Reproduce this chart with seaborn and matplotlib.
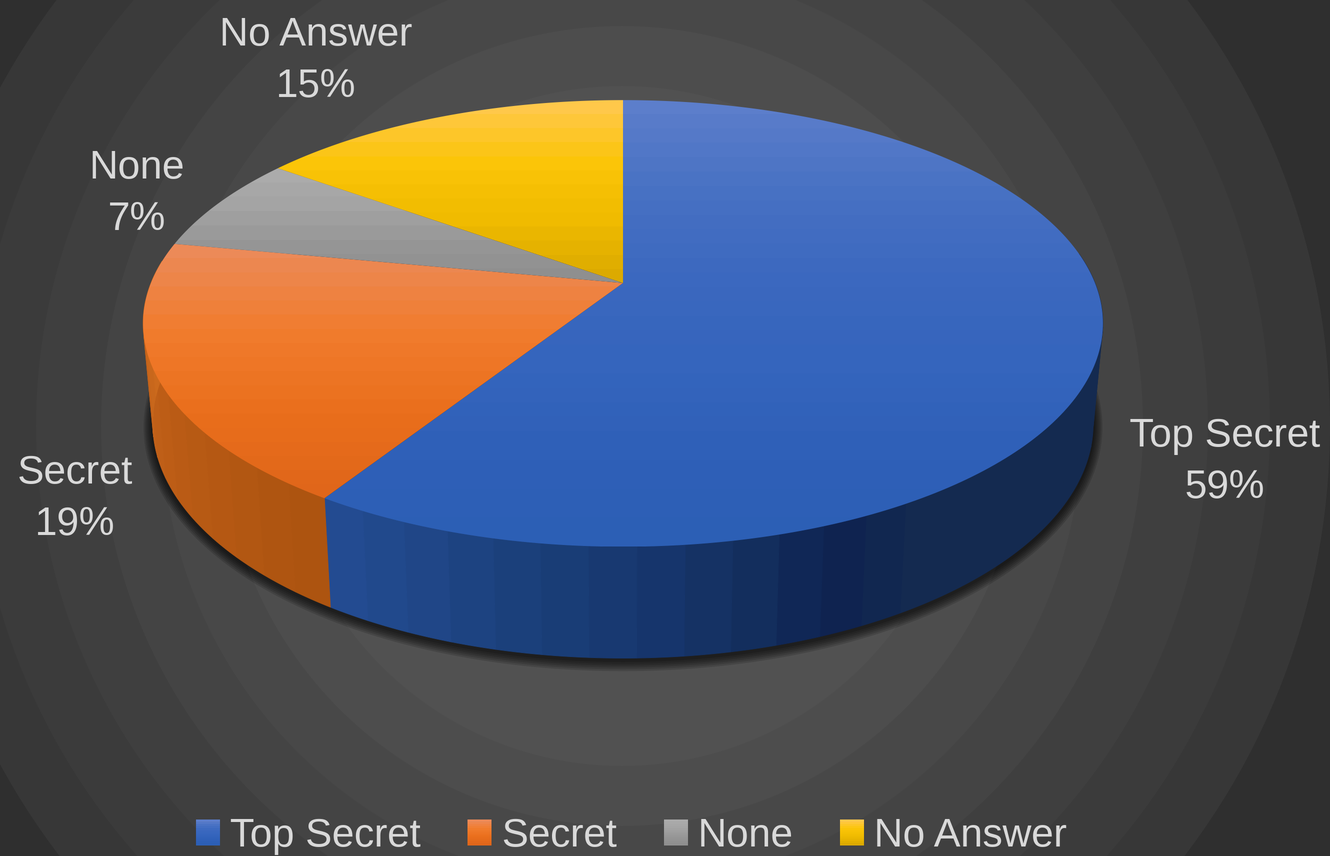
import io

import numpy as np
import seaborn as sns
import matplotlib.pyplot as plt
from matplotlib.legend_handler import HandlerBase
from matplotlib.patches import Circle, Patch, PathPatch, Polygon, Rectangle
from matplotlib.path import Path
from PIL import Image

categories = ["Top Secret", "Secret", "None", "No Answer"]
shares = [59, 19, 7, 15]

# vertical gradient of each top face, light to saturated
top_stops = [
    ["#5c7ecb", "#4771c3", "#3b68bf", "#3565bd", "#2f60b8", "#2c5fb5"],
    ["#ec8a58", "#f17c2e", "#ea6f1c", "#e0661a"],
    ["#ababab", "#a3a3a3", "#979797", "#8f8f8f"],
    ["#ffc84a", "#fbc508", "#f0bb00", "#dcaa00"],
]
# colour round the rim, in drawing order (clockwise from the top of the pie)
side_stops = [
    ["#142a50"] * 15 + ["#0e2250", "#14305f", "#17376f", "#1a3f78", "#1f4585", "#234b91"],
    ["#ad5410", "#b85a14", "#c4621a", "#d2711f"],
    ["#6f6f6f", "#6f6f6f"],
    ["#a88000", "#a88000"],
]
label_spots = [(1225, 462), (75, 499), (137, 194), (316, 61)]

ring_radii = [770, 708, 648, 586, 521, 460, 400, 340]
ring_grey = ["#2f2f2f", "#373737", "#3b3b3b", "#3f3f3f", "#444444", "#484848", "#4d4d4d", "#515151"]

# perspective of the pie, in pixels
CX, APEX_Y, SKEW = 623, 283, 0.181
TOP_A, TOP_B = 472, 216
BOTTOM_A, BOTTOM_B, BOTTOM_Y = 462.5, 227, 381
SS = 2

sns.set_theme(style="dark", rc={"axes.facecolor": "#2f2f2f", "figure.facecolor": "#2f2f2f"})
plt.rcParams["font.family"] = ["Liberation Sans", "DejaVu Sans"]
TEXT = "#d9d9d9"
FONT = 28.7


def top_xy(frac):
    x, y = np.sin(2 * np.pi * frac), np.cos(2 * np.pi * frac)
    den = 1 + SKEW * y
    return np.column_stack([CX + TOP_A * x / den, APEX_Y - TOP_B * y / den])


def bottom_xy(frac, grow=0.0, drop=0.0):
    x, y = np.sin(2 * np.pi * frac), np.cos(2 * np.pi * frac)
    den = 1 + SKEW * y
    return np.column_stack(
        [CX + (BOTTOM_A + grow) * x / den, BOTTOM_Y + drop - (BOTTOM_B + grow) * y / den]
    )


class GradientSwatch(HandlerBase):
    def __init__(self, stops):
        super().__init__()
        self.stops = stops

    def create_artists(self, legend, orig_handle, xdescent, ydescent, width, height, fontsize, trans):
        cols = sns.blend_palette(self.stops, n_colors=12)
        out = []
        for i, c in enumerate(cols):
            y0 = -ydescent + height * (1 - (i + 1) / 12)
            out.append(Rectangle((-xdescent, y0), width, height / 12 + 0.2, fc=c, ec="none", transform=trans))
        return out


fig = plt.figure(figsize=(13.3, 8.56), dpi=100)
ax = fig.add_axes([0, 0, 1, 1])
ax.set_xlim(0, 1330)
ax.set_ylim(856, 0)
ax.axis("off")

# banded radial background
for r, c in zip(ring_radii, ring_grey):
    ax.add_patch(Circle((622, 426), r, fc=c, ec="none", zorder=0))

# soft shadow under the pie
whole = np.linspace(0, 1, 361)
for grow in [9, 7.5, 6, 4.5, 3, 1.5]:
    ax.add_patch(Polygon(bottom_xy(whole, grow, 2), fc="black", ec="none", alpha=0.14, zorder=1))

edges = np.cumsum([0] + shares) / sum(shares)

# rim first, the top faces cover whatever lies behind
for start, end, stops in zip(edges[:-1], edges[1:], side_stops):
    n = max(int((end - start) * 75), 2)
    cols = sns.blend_palette(stops, n_colors=n)
    cuts = np.linspace(start, end, n + 1)
    for a, b, c in zip(cuts[:-1], cuts[1:], cols):
        # the back of the rim never shows and its edge would peek out
        if np.cos(np.pi * (a + b)) > 0.1:
            continue
        arc = np.linspace(a, b, 8)
        poly = np.vstack([top_xy(arc), bottom_xy(arc)[::-1]])
        ax.add_patch(Polygon(poly, fc=c, ec=c, lw=0.4, zorder=2))

# top faces
for start, end, stops in zip(edges[:-1], edges[1:], top_stops):
    arc = np.linspace(start, end, 240)
    rim = top_xy(arc)
    pts = np.vstack([[CX, APEX_Y], rim, [CX, APEX_Y]])
    path = Path(pts, closed=True)
    y0, y1 = pts[:, 1].min(), pts[:, 1].max()
    n = max(int((y1 - y0) / 14), 6)
    grad = np.array(sns.blend_palette(stops, n_colors=n))[:, :3].reshape(n, 1, 3)
    x0, x1 = pts[:, 0].min(), pts[:, 0].max()
    im = ax.imshow(grad, extent=(x0, x1, y1, y0), aspect="auto", interpolation="nearest", zorder=3)
    im.set_clip_path(PathPatch(path, transform=ax.transData))

ax.set_xlim(0, 1330)
ax.set_ylim(856, 0)

for name, value, (lx, ly) in zip(categories, shares, label_spots):
    ax.text(lx, ly, f"{name}\n{value}%", color=TEXT, fontsize=FONT, ha="center", va="center",
            linespacing=1.48, zorder=5)

handles = [Patch(label=c) for c in categories]
fig.legend(
    handles,
    categories,
    handler_map={h: GradientSwatch(s) for h, s in zip(handles, top_stops)},
    ncol=4,
    loc="lower center",
    bbox_to_anchor=(0.4748, -0.041),
    frameon=False,
    fontsize=FONT,
    labelcolor=TEXT,
    handlelength=0.60,
    handleheight=0.60,
    handletextpad=0.25,
    columnspacing=1.18,
)

# draw large and shrink, the clipped gradients get smooth edges that way
buf = io.BytesIO()
fig.savefig(buf, format="png", dpi=100 * SS)
buf.seek(0)
Image.open(buf).convert("RGB").resize((1330, 856), Image.LANCZOS).save("out.png")
